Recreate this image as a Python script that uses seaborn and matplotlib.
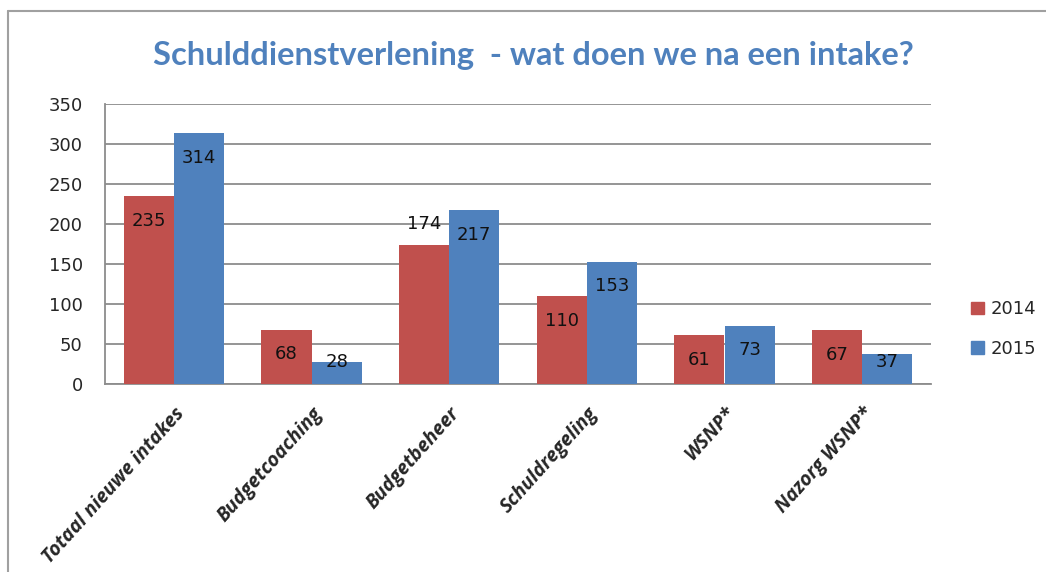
import pandas as pd
import numpy as np
import seaborn as sns
import matplotlib.pyplot as plt
from matplotlib.lines import Line2D

categories = ['Totaal nieuwe intakes', 'Budgetcoaching', 'Budgetbeheer',
              'Schuldregeling', 'WSNP*', 'Nazorg WSNP*']
values_2014 = [235, 68, 174, 110, 61, 67]
values_2015 = [314, 28, 217, 153, 73, 37]
years = ['2014', '2015']
y_ticks = [0, 50, 100, 150, 200, 250, 300, 350]

df = pd.DataFrame({
    'categorie': categories * 2,
    'jaar': [years[0]] * len(categories) + [years[1]] * len(categories),
    'aantal': values_2014 + values_2015,
})

sns.set_style('white')
plt.rcParams['font.family'] = ['DejaVu Sans']

fig = plt.figure(figsize=(10.46, 5.72), dpi=100)
ax = fig.add_axes([105 / 1046, 1 - 384 / 572, (931 - 105) / 1046, (384 - 104) / 572])

palette = {'2014': '#C0504D', '2015': '#4F81BD'}
sns.barplot(data=df, x='categorie', y='aantal', hue='jaar', palette=palette,
            width=0.73, saturation=1, ax=ax, zorder=3, edgecolor='none')

ax.set_xlim(-0.5, len(categories) - 0.5)
ax.set_ylim(0, 350)
ax.set_yticks(y_ticks)
ax.set_yticklabels([str(t) for t in y_ticks], fontsize=13)
ax.set_xlabel('')
ax.set_ylabel('')
ax.yaxis.grid(True, color='#8c8c8c', linewidth=1.3, zorder=0)
ax.set_axisbelow(True)

for side in ['top', 'right']:
    ax.spines[side].set_visible(False)
for side in ['left', 'bottom']:
    ax.spines[side].set_color('#8c8c8c')
    ax.spines[side].set_linewidth(1.3)

ax.tick_params(axis='y', which='major', direction='out', length=6, color='#8c8c8c', pad=10)
ax.set_xticks(np.arange(len(categories)))
ax.set_xticks(np.arange(len(categories) + 1) - 0.5, minor=True)
ax.tick_params(axis='x', which='major', length=0, pad=14)
ax.tick_params(axis='x', which='minor', direction='out', length=6, color='#8c8c8c', width=1.3)
ax.set_xticklabels(categories, rotation=48, ha='right', rotation_mode='anchor',
                   fontsize=14, fontweight='bold', fontstyle='italic',
                   family=['Open Sans', 'DejaVu Sans'])

# data labels: just below the top of each bar, never lower than the baseline text
for container in ax.containers:
    for bar in container:
        h = bar.get_height()
        xc = bar.get_x() + bar.get_width() / 2
        if h == 174:
            y = h + 26
        else:
            y = max(h - 31, 27.5)
        ax.text(xc, y, f'{int(h)}', ha='center', va='center', fontsize=13,
                color='#111111', zorder=5)

handles = [plt.Rectangle((0, 0), 1, 1, color=palette[y]) for y in years]
ax.legend(handles, years, loc='center left', bbox_to_anchor=(955 / 1046, 1 - 329 / 572),
          bbox_transform=fig.transFigure, frameon=False, fontsize=13,
          handlelength=0.7, handleheight=0.7, handletextpad=0.35, labelspacing=1.2)

fig.text(533 / 1046, 1 - 55 / 572, 'Schulddienstverlening  - wat doen we na een intake?',
         ha='center', va='center', fontsize=23.5, color='#4F81BD', fontweight='bold',
         family=['Lato', 'DejaVu Sans'])

fig.add_artist(Line2D([8 / 1046, 1.0], [1 - 11 / 572, 1 - 11 / 572], color='#a0a0a0', linewidth=1.5))
fig.add_artist(Line2D([8 / 1046, 8 / 1046], [0.0, 1 - 11 / 572], color='#a0a0a0', linewidth=1.5))

fig.savefig('out.png', dpi=100)
plt.close()
